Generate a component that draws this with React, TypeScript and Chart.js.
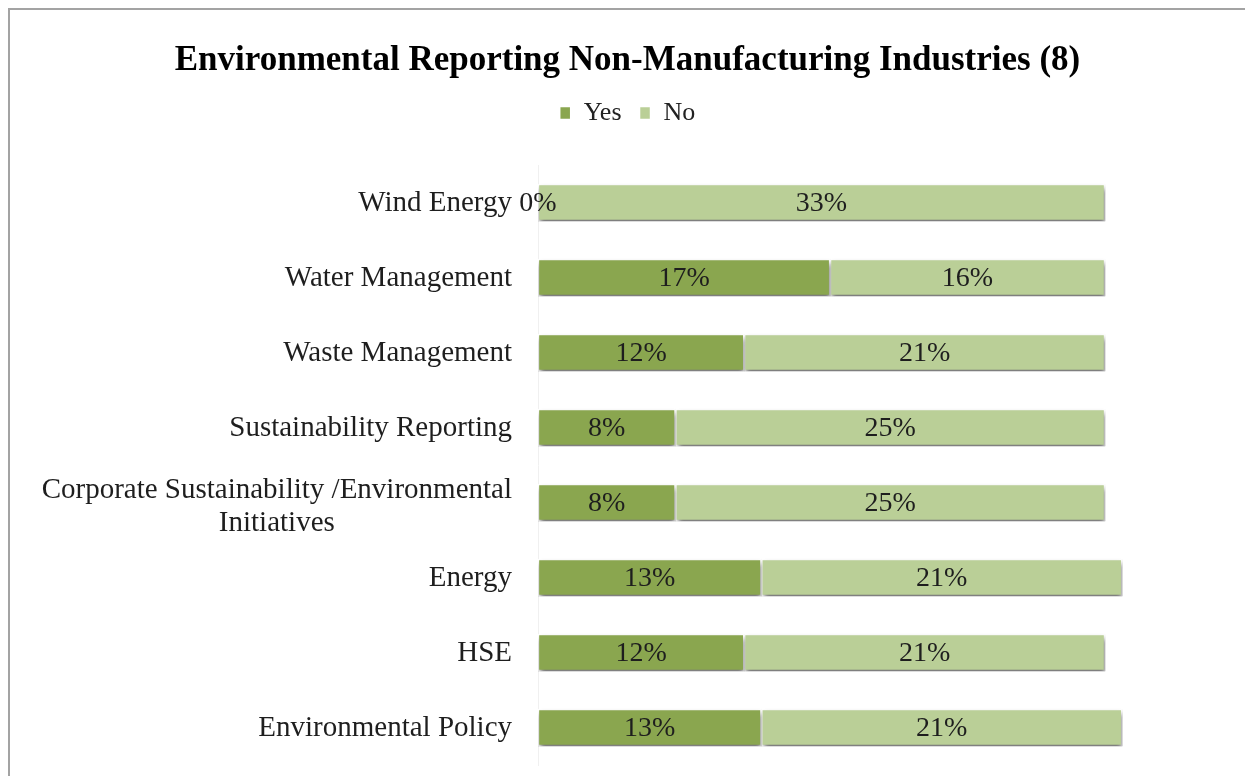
import React, { useEffect, useRef } from "react";
import { Chart, registerables } from "chart.js";

Chart.register(...registerables);

const titleText = "Environmental Reporting Non-Manufacturing Industries (8)";
const categories: (string | string[])[] = [
  "Wind Energy",
  "Water Management",
  "Waste Management",
  "Sustainability Reporting",
  ["Corporate Sustainability /Environmental", "Initiatives"],
  "Energy",
  "HSE",
  "Environmental Policy",
];
const seriesNames = ["Yes", "No"];
const yesValues = [0, 17, 12, 8, 8, 13, 12, 13];
const noValues = [33, 16, 21, 25, 25, 21, 21, 21];
const seriesColors = ["#8aa64f", "#bacf97"];
const xMax = 41.15;

const SERIF = "'Liberation Serif', 'Times New Roman', serif";

const barDecor = {
  id: "barDecor",
  beforeDatasetsDraw(chart: any) {
    const ctx = chart.ctx;
    ctx.save();
    ctx.shadowColor = "rgba(0,0,0,0.55)";
    ctx.shadowBlur = 5;
    ctx.shadowOffsetX = 1;
    ctx.shadowOffsetY = 4;
  },
  afterDatasetsDraw(chart: any) {
    const ctx = chart.ctx;
    ctx.restore();
    // data labels
    ctx.save();
    ctx.font = `28px ${SERIF}`;
    ctx.fillStyle = "#1e1e1e";
    ctx.textAlign = "center";
    ctx.textBaseline = "middle";
    chart.data.datasets.forEach((ds: any, di: number) => {
      const meta = chart.getDatasetMeta(di);
      meta.data.forEach((bar: any, i: number) => {
        const v = ds.data[i];
        const x = (bar.x + bar.base) / 2;
        ctx.fillText(`${v}%`, x, bar.y + 1);
      });
    });
    ctx.restore();
    // category labels
    const yScale = chart.scales.y;
    ctx.save();
    ctx.font = `29px ${SERIF}`;
    ctx.fillStyle = "#1e1e1e";
    ctx.textAlign = "center";
    ctx.textBaseline = "middle";
    const right = chart.chartArea.left - 26;
    categories.forEach((lab, i) => {
      const lines = Array.isArray(lab) ? lab : [lab];
      const maxW = Math.max(...lines.map((l) => ctx.measureText(l).width));
      const cx = right - maxW / 2;
      const y = yScale.getPixelForValue(i);
      const lh = 33;
      lines.forEach((l, j) => {
        const off = lines.length > 1 ? (j - (lines.length - 1) / 2) * lh + 3 : 0;
        ctx.fillText(l, cx, y + off + 1);
      });
    });
    ctx.restore();
  },
};

const legendSpace = {
  id: "legendSpace",
  beforeInit(chart: any) {
    const origFit = chart.legend.fit;
    chart.legend.fit = function () {
      origFit.bind(chart.legend)();
      this.height += 29;
    };
  },
};

export default function App() {
  const ref = useRef<HTMLCanvasElement | null>(null);
  useEffect(() => {
    if (!ref.current) return;
    const chart = new Chart(ref.current, {
      type: "bar",
      data: {
        labels: categories as any,
        datasets: [
          {
            label: seriesNames[0],
            data: yesValues,
            backgroundColor: seriesColors[0],
            borderColor: "#ffffff",
            borderWidth: 1.5,
            borderSkipped: false,
            barThickness: 37,
          },
          {
            label: seriesNames[1],
            data: noValues,
            backgroundColor: seriesColors[1],
            borderColor: "#ffffff",
            borderWidth: 1.5,
            borderSkipped: false,
            barThickness: 37,
          },
        ],
      },
      options: {
        indexAxis: "y",
        animation: false,
        responsive: false,
        maintainAspectRatio: false,
        layout: { padding: { left: 0, right: 0, top: 0, bottom: 11 } },
        scales: {
          x: {
            stacked: true,
            display: false,
            min: 0,
            max: xMax,
          },
          y: {
            stacked: true,
            grid: { display: false, drawTicks: false },
            border: { display: true, color: "#f0f0f0" },
            ticks: { display: false },
            afterFit(scale: any) {
              scale.width = 528;
            },
          },
        },
        plugins: {
          title: {
            display: true,
            text: titleText,
            color: "#000000",
            font: { family: SERIF, size: 35, weight: "bold" },
            padding: { top: 30, bottom: 0 },
          },
          legend: {
            display: true,
            position: "top",
            labels: {
              color: "#222222",
              font: { family: SERIF, size: 26 },
              boxWidth: 11,
              boxHeight: 13,
              padding: 18,
            },
          },
          tooltip: { enabled: false },
        },
      },
      plugins: [barDecor, legendSpace],
    });
    return () => chart.destroy();
  }, []);
  return (
    <div
      style={{
        width: 1235,
        height: 766,
        borderLeft: "2px solid #a3a3a3",
        borderTop: "2px solid #a3a3a3",
        background: "#ffffff",
      }}
    >
      <canvas ref={ref} width={1235} height={766} style={{ display: "block" }} />
    </div>
  );
}
